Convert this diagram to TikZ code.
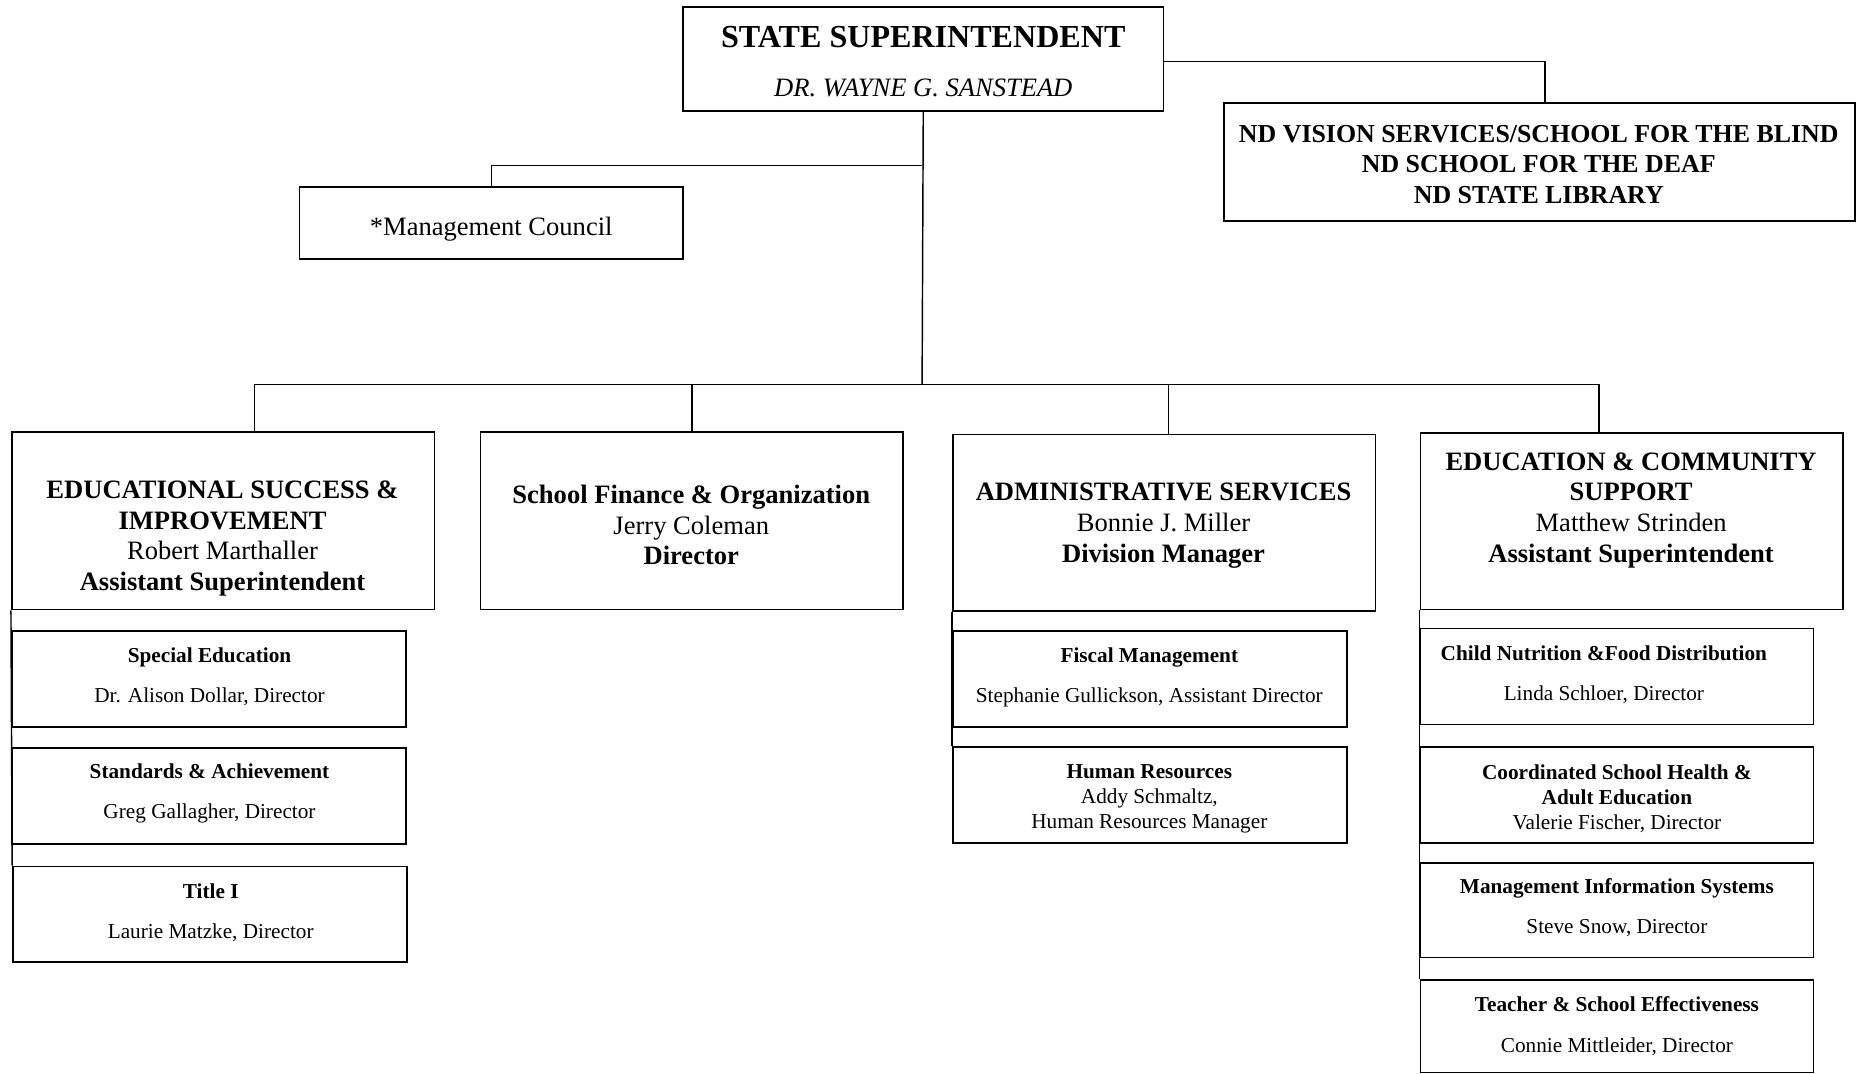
\documentclass[tikz,border=0pt]{standalone}
\usepackage{fontspec}
\setmainfont{Liberation Serif}
\usetikzlibrary{fit}

\begin{document}
\begin{tikzpicture}[x=0.535pt, y=-0.535pt,
    box/.style={draw, line width=0.8pt, inner sep=0pt},
    link/.style={line width=0.65pt},
    head/.style={align=center, font=\fontsize{12}{13.9}\selectfont},
    headbold/.style={align=center, font=\fontsize{11.7}{13.9}\selectfont\bfseries},
    sub/.style={align=center, font=\fontsize{9.6}{18.2}\selectfont},
    subthree/.style={align=center, font=\fontsize{9.6}{11.3}\selectfont}]
    \useasboundingbox (0,0) rectangle (1568,906.5);

    % superintendent and the units beside him
    \node[box, fit={(577,6) (983,94)}] (sup) {};
    \node[font=\fontsize{14.5}{17}\selectfont\bfseries] (sup-title) at (780,31) {STATE SUPERINTENDENT};
    \node[font=\fontsize{12}{14}\selectfont\itshape] (sup-name) at (780,74) {DR. WAYNE G. SANSTEAD};

    \node[box, fit={(1034,87) (1567,187)}] (nd) {};
    \node[headbold] (nd-t) at (1300,139) {ND VISION SERVICES/SCHOOL FOR THE BLIND\\ND SCHOOL FOR THE DEAF\\ND STATE LIBRARY};

    \node[box, fit={(253,158) (577,219)}] (mc) {};
    \node[head] (mc-t) at (415,194) {*Management Council};

    % divisions
    \node[box, fit={(10,365) (367,515)}] (esi) {};
    \node[head] (esi-t) at (188,455) {\textbf{EDUCATIONAL SUCCESS \&}\\\textbf{IMPROVEMENT}\\Robert Marthaller\\\textbf{Assistant Superintendent}};

    \node[box, fit={(406,365) (763,515)}] (sfo) {};
    \node[head] (sfo-t) at (584,443.5) {\textbf{School Finance \& Organization}\\Jerry Coleman\\\textbf{Director}};

    \node[box, fit={(805,367) (1162,516)}] (adm) {};
    \node[head] (adm-t) at (983,444) {\textbf{ADMINISTRATIVE SERVICES}\\Bonnie J. Miller\\\textbf{Division Manager}};

    \node[box, fit={(1200,366) (1557,515)}] (ecs) {};
    \node[head] (ecs-t) at (1378,431) {\textbf{EDUCATION \& COMMUNITY}\\\textbf{SUPPORT}\\Matthew Strinden\\\textbf{Assistant Superintendent}};

    % offices under the divisions
    \node[box, fit={(10,533) (343,614)}] (se) {};
    \node[sub] (se-t) at (177,572) {\textbf{Special Education}\\Dr. Alison Dollar, Director};
    \node[box, fit={(10,632) (343,713)}] (sa) {};
    \node[sub] (sa-t) at (177,670.5) {\textbf{Standards \& Achievement}\\Greg Gallagher, Director};
    \node[box, fit={(11,732) (344,813)}] (tone) {};
    \node[sub] (tone-t) at (178,771) {\textbf{Title I}\\Laurie Matzke, Director};

    \node[box, fit={(805,533) (1138,614)}] (fm) {};
    \node[sub] (fm-t) at (971,572) {\textbf{Fiscal Management}\\Stephanie Gullickson, Assistant Director};
    \node[box, fit={(805,631) (1138,712)}] (hr) {};
    \node[subthree] (hr-t) at (971,675) {\textbf{Human Resources}\\Addy Schmaltz,\\Human Resources Manager};

    \node[box, fit={(1200,531) (1532,612)}] (cn) {};
    \node[sub] (cn-t) at (1355,570) {\textbf{Child Nutrition \&Food Distribution}\\Linda Schloer, Director};
    \node[box, fit={(1200,631) (1532,712)}] (csh) {};
    \node[subthree] (csh-t) at (1366,675) {\textbf{Coordinated School Health \&}\\\textbf{Adult Education}\\Valerie Fischer, Director};
    \node[box, fit={(1200,729) (1532,809)}] (mis) {};
    \node[sub] (mis-t) at (1366,767) {\textbf{Management Information Systems}\\Steve Snow, Director};
    \node[box, fit={(1200,828) (1532,906)}] (tse) {};
    \node[sub] (tse-t) at (1366,867) {\textbf{Teacher \& School Effectiveness}\\Connie Mittleider, Director};

    % connectors
    \coordinate (supj) at (983,52);
    \coordinate (mcj) at (779,140);
    \coordinate (bus) at (779,325);
    \coordinate (esi-in) at (215,365);
    \coordinate (adm-in) at (987,367);
    \coordinate (ecs-in) at (1351,365);
    \draw[link] (supj) -| ([xshift=2.5pt]nd.north);
    \draw[link] (sup.south) -- (bus);
    \draw[link] (mcj) -| (mc.north);
    \draw[link] (esi-in) |- (bus) -| (ecs-in);
    \draw[link] (sfo.north) -- (sfo.north |- bus);
    \draw[link] (adm-in) -- (adm-in |- bus);
    \draw[link] (esi.south west) -- (tone.north west);
    \draw[link] (adm.south west) -- (hr.north west);
    \draw[link] (ecs.south west) -- (tse.north west);

\end{tikzpicture}
\end{document}
